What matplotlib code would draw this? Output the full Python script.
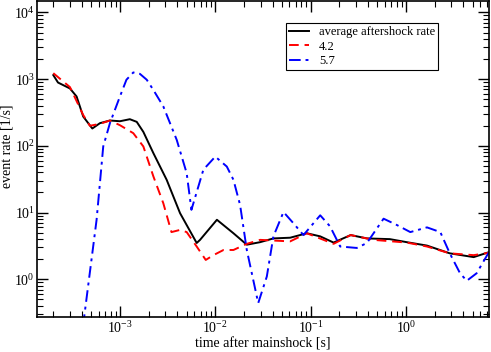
import matplotlib
matplotlib.use("Agg")
import matplotlib.pyplot as plt
from matplotlib.ticker import LogLocator, NullFormatter

plt.rcParams['font.family'] = ['Liberation Serif', 'DejaVu Serif']
plt.rcParams['mathtext.fontset'] = 'stix'

# average aftershock rate
t_avg = [2.0e-4, 2.24e-4, 2.99e-4, 3.51e-4, 4.12e-4, 5.13e-4, 6.17e-4, 7.85e-4, 1.0e-3,
         1.27e-3, 1.50e-3, 1.76e-3, 2.24e-3, 3.09e-3, 4.27e-3, 6.38e-3, 6.92e-3, 1.04e-2,
         1.55e-2, 2.14e-2, 2.95e-2, 4.07e-2, 6.10e-2, 9.12e-2, 0.126, 0.174, 0.263, 0.389,
         0.676, 1.02, 1.66, 2.88, 5.13, 7.41]
r_avg = [1150, 890, 725, 550, 275, 182, 219, 240, 234,
         251, 229, 162, 78, 31, 9.8, 3.5, 3.9, 7.8,
         4.9, 3.3, 3.6, 4.1, 4.2, 4.9, 4.4, 3.55, 4.6, 4.1,
         4.0, 3.6, 3.2, 2.45, 2.15, 2.55]

# magnitude 4.2
t_42 = [2.0e-4, 2.99e-4, 4.12e-4, 4.84e-4, 6.17e-4, 7.85e-4, 1.0e-3, 1.38e-3, 1.76e-3,
        2.24e-3, 2.85e-3, 3.47e-3, 4.27e-3, 5.01e-3, 6.38e-3, 7.94e-3, 9.55e-3, 1.22e-2,
        1.55e-2, 2.14e-2, 2.95e-2, 6.10e-2, 9.12e-2, 0.174, 0.263, 0.457, 1.02, 1.66,
        2.88, 5.13, 7.41]
r_42 = [1230, 760, 290, 200, 214, 240, 204, 155, 98,
        35, 13.8, 5.1, 5.5, 5.1, 3.1, 1.95, 2.3, 2.75,
        2.75, 3.4, 3.9, 3.7, 4.9, 3.4, 4.6, 3.9, 3.55, 3.1,
        2.45, 2.3, 2.5]

# magnitude 5.7
t_57 = [4.1e-4, 5.69e-4, 6.68e-4, 7.85e-4, 1.0e-3, 1.17e-3, 1.38e-3, 1.62e-3, 1.91e-3,
        2.24e-3, 2.85e-3, 3.94e-3,
        5.01e-3, 5.62e-3, 7.50e-3, 1.0e-2, 1.32e-2, 1.55e-2, 1.82e-2, 2.14e-2, 2.82e-2,
        3.47e-2, 4.07e-2, 5.19e-2, 6.61e-2, 8.41e-2, 0.126, 0.160, 0.204, 0.305, 0.389,
        0.582, 0.804, 1.11, 1.66, 2.29, 2.88, 3.69, 4.34, 5.50, 7.41]
r_57 = [0.2, 7.8, 98, 219, 550, 980, 1260, 1200, 980,
        690, 390, 123,
        39, 11, 44, 69, 49, 31, 13, 2.75, 0.44,
        1.1, 4.4, 10.2, 6.9, 4.6, 9.1, 6.2, 3.1, 2.95, 3.5,
        8.1, 6.5, 5.1, 6.0, 5.1, 2.45, 1.23, 0.95, 1.23, 2.55]

fig = plt.figure(figsize=(4.91, 3.52), dpi=100)
ax = fig.add_axes([0.0754, 0.1003, 0.9206, 0.8955])

ax.plot(t_avg, r_avg, color='black', lw=1.4, label='average aftershock rate')
ax.plot(t_42, r_42, color='red', lw=1.4, dashes=(5, 3), label='4.2')
ax.plot(t_57, r_57, color='blue', lw=1.4, dashes=(6, 2.5, 1.5, 2.5), label='5.7')

ax.set_xscale('log')
ax.set_yscale('log')
ax.set_xlim(1.35e-4, 7.43)
ax.set_ylim(0.275, 14600)

ax.xaxis.set_major_locator(LogLocator(base=10, numticks=20))
ax.xaxis.set_minor_locator(LogLocator(base=10, subs=range(2, 10), numticks=20))
ax.yaxis.set_major_locator(LogLocator(base=10, numticks=20))
ax.yaxis.set_minor_locator(LogLocator(base=10, subs=range(2, 10), numticks=20))
ax.xaxis.set_minor_formatter(NullFormatter())
ax.yaxis.set_minor_formatter(NullFormatter())

ax.tick_params(which='both', direction='in', top=True, right=True, labelsize=10)
ax.tick_params(which='major', length=8, width=1)
ax.tick_params(which='minor', length=4, width=0.8)
ax.tick_params(axis='y', which='major', pad=1.5)
ax.tick_params(axis='x', which='major', pad=2.5)
for s in ax.spines.values():
    s.set_linewidth(1.2)

ax.set_xlabel('time after mainshock [s]', fontsize=10, labelpad=1)
ax.set_ylabel('event rate [1/s]', fontsize=10, va='center')
ax.yaxis.set_label_coords(-0.066, 0.54)

leg = ax.legend(loc='upper left', bbox_to_anchor=(0.550, 0.931), borderaxespad=0,
                fontsize=9, fancybox=False, framealpha=1, edgecolor='black',
                handlelength=1.6, borderpad=0.25, labelspacing=0.2)
leg.get_frame().set_linewidth(0.8)

fig.savefig('out.png', dpi=100)
